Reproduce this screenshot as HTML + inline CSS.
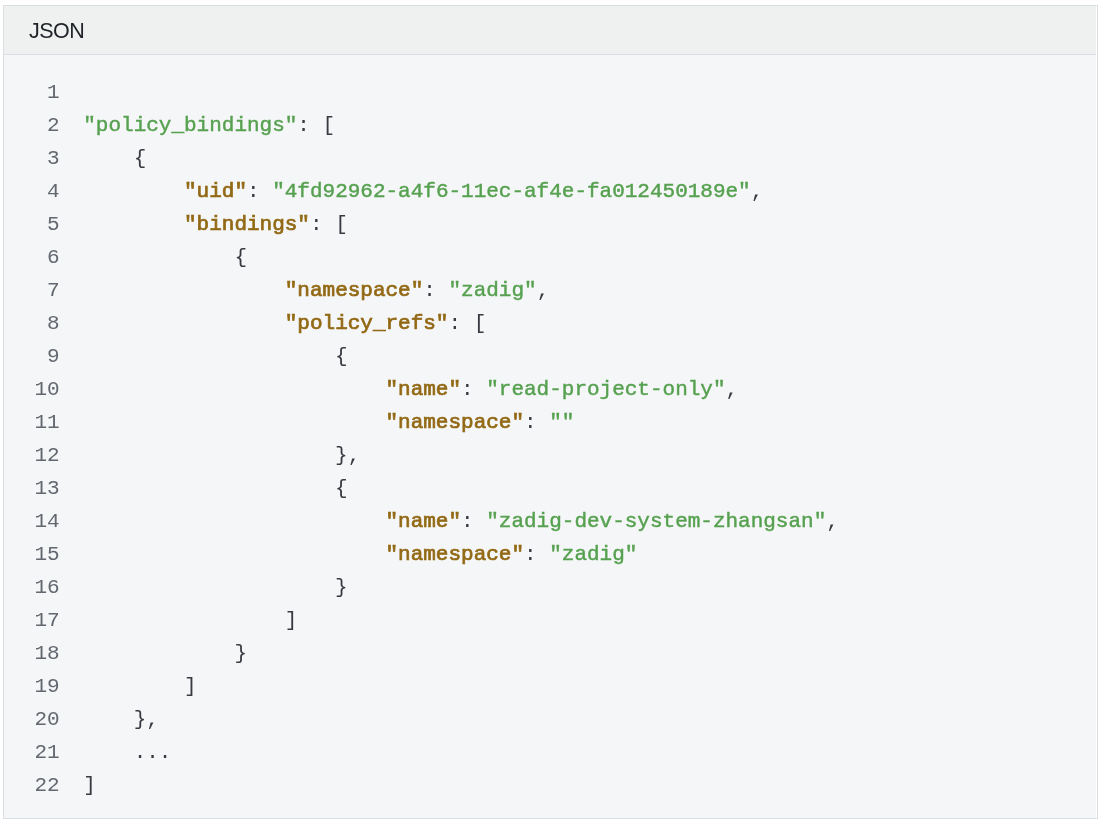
<!DOCTYPE html>
<html><head><meta charset="utf-8">
<style>
html,body{margin:0;padding:0;background:#fff;}
body{width:1102px;height:824px;overflow:hidden;position:relative;}
.box{position:absolute;left:3px;top:5px;width:1093px;height:812px;border:1px solid #dadde2;background:#fff;}
.bd{position:absolute;left:0;top:49px;width:1092px;height:763px;background:#f5f6f7;}
.hd{width:1092px;background:#eff0f0;border-bottom:1px solid #dadde2;font-family:"Liberation Sans",sans-serif;font-size:21.5px;letter-spacing:-0.5px;color:#1f2328;line-height:51px;padding-left:25px;box-sizing:border-box;height:49px;}
.code{will-change:transform;position:absolute;left:-2px;top:69.5px;letter-spacing:-0.01px;font-family:"Liberation Mono",monospace;font-size:21px;line-height:33px;color:#383a42;white-space:pre;}
.l{height:33px;display:block;}
.n{display:inline-block;width:57.6px;text-align:right;color:#636870;margin-right:23.7px;}
.k{color:#926915;-webkit-text-stroke:0.72px #926915;}
.s{color:#56a150;-webkit-text-stroke:0.45px #56a150;}
</style></head><body>
<div class="box">
<div class="hd"><span style="display:inline-block;will-change:transform">JSON</span></div>
<div class="bd"></div>
<div class="code"><span class="l"><span class="n">1</span></span
><span class="l"><span class="n">2</span><span class="s">"policy_bindings"</span>: [</span
><span class="l"><span class="n">3</span>    {</span
><span class="l"><span class="n">4</span>        <span class="k">"uid"</span>: <span class="s">"4fd92962-a4f6-11ec-af4e-fa012450189e"</span>,</span
><span class="l"><span class="n">5</span>        <span class="k">"bindings"</span>: [</span
><span class="l"><span class="n">6</span>            {</span
><span class="l"><span class="n">7</span>                <span class="k">"namespace"</span>: <span class="s">"zadig"</span>,</span
><span class="l"><span class="n">8</span>                <span class="k">"policy_refs"</span>: [</span
><span class="l"><span class="n">9</span>                    {</span
><span class="l"><span class="n">10</span>                        <span class="k">"name"</span>: <span class="s">"read-project-only"</span>,</span
><span class="l"><span class="n">11</span>                        <span class="k">"namespace"</span>: <span class="s">""</span></span
><span class="l"><span class="n">12</span>                    },</span
><span class="l"><span class="n">13</span>                    {</span
><span class="l"><span class="n">14</span>                        <span class="k">"name"</span>: <span class="s">"zadig-dev-system-zhangsan"</span>,</span
><span class="l"><span class="n">15</span>                        <span class="k">"namespace"</span>: <span class="s">"zadig"</span></span
><span class="l"><span class="n">16</span>                    }</span
><span class="l"><span class="n">17</span>                ]</span
><span class="l"><span class="n">18</span>            }</span
><span class="l"><span class="n">19</span>        ]</span
><span class="l"><span class="n">20</span>    },</span
><span class="l"><span class="n">21</span>    ...</span
><span class="l"><span class="n">22</span>]</span
></div>
</div>
</body></html>
